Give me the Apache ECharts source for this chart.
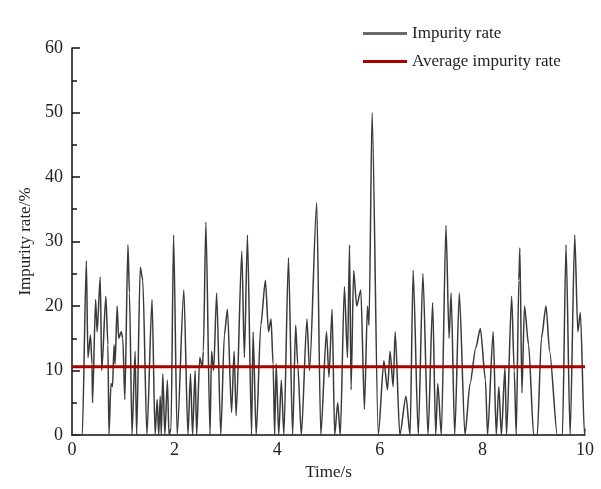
<!DOCTYPE html>
<html><head><meta charset="utf-8">
<script src="https://cdn.jsdelivr.net/npm/echarts@6/dist/echarts.min.js"></script>
<style>html,body{margin:0;padding:0;background:#fff}#c{width:601px;height:489px}</style>
</head><body><div id="c"></div>
<script>
const times = [0,0.20,0.28,0.31,0.36,0.39,0.40,0.46,0.49,0.55,0.58,0.66,0.70,0.72,0.76,0.79,0.82,0.84,0.88,0.91,0.96,0.99,1.03,1.09,1.12,1.17,1.23,1.26,1.33,1.38,1.46,1.56,1.62,1.66,1.69,1.72,1.74,1.77,1.81,1.86,1.89,1.93,1.98,2.05,2.18,2.26,2.31,2.35,2.40,2.43,2.49,2.54,2.56,2.61,2.69,2.72,2.76,2.82,2.90,2.97,3.03,3.11,3.16,3.20,3.31,3.36,3.42,3.50,3.53,3.59,3.68,3.77,3.83,3.88,3.92,3.95,3.98,4.03,4.08,4.13,4.22,4.30,4.36,4.40,4.47,4.58,4.63,4.77,4.85,4.96,5.01,5.07,5.12,5.18,5.23,5.31,5.37,5.41,5.44,5.49,5.55,5.63,5.70,5.76,5.79,5.85,5.97,6.08,6.15,6.20,6.26,6.30,6.39,6.51,6.59,6.65,6.75,6.84,6.94,7.03,7.09,7.13,7.20,7.29,7.35,7.39,7.46,7.55,7.66,7.76,7.87,7.96,8.06,8.10,8.21,8.27,8.32,8.37,8.44,8.47,8.57,8.62,8.66,8.71,8.73,8.77,8.82,8.90,9.00,9.07,9.15,9.24,9.31,9.46,9.56,9.63,9.71,9.80,9.86,9.91,9.99,10.0];
const impurity = [0,0,27,12,15.5,11,5,21,16,24.5,10,21.5,14,0,8,7.5,14,11,20,15,16,15,5.5,29.5,22,0,13,0,26,24,0,21,0,5.5,0,6,0,9.5,0,8.5,0,1,31,0,22.5,0,9.5,0,10,0,12,10.5,13,33,0,13,10,22,0,15.5,19.5,3.5,13,3,28.5,12,31,0,16,0,17,24,16,18,11,0,11,0,8.5,0,27.5,0,17,11,0,18,10,36,0,16,9,19.5,0,5,0,23,12,29.5,7,25.5,20,22.5,4,20,17,50,0,11.5,7,13,7.5,16,0,6,0,25.5,0,25,0,20.5,0,8,0,32.5,15,22,0,22,0,8,13.5,16.5,8.5,0,16,0,7.5,0,10.5,0,21.5,10,0,24,29,6.5,20,14,0,0,15,20,13,0,0,29.5,0,31,16,19,0,1];
const averageRate = 10.6;
const timeRange = [0, 10];
const seriesNames = ['Impurity rate', 'Average impurity rate'];

const font = 'Liberation Serif, Times New Roman, serif';
const chart = echarts.init(document.getElementById('c'));
chart.setOption({
  animation: false,
  backgroundColor: '#fff',
  grid: {left: 72, right: 16, top: 48, bottom: 54},
  legend: {
    orient: 'vertical', left: 358, top: 20, itemWidth: 44, itemHeight: 3, itemGap: 11,
    textStyle: {fontFamily: font, fontSize: 17, color: '#222'},
    data: [
      {name: seriesNames[0], icon: 'rect', itemStyle: {color: '#6a6a6a'}},
      {name: seriesNames[1], icon: 'rect', itemStyle: {color: '#a80000'}}
    ]
  },
  xAxis: {
    type: 'value', min: 0, max: 10, interval: 2,
    name: 'Time/s', nameLocation: 'middle', nameGap: 25,
    nameTextStyle: {fontFamily: font, fontSize: 17, color: '#222'},
    axisLine: {lineStyle: {color: '#111', width: 1.5}},
    axisTick: {show: false},
    axisLabel: {fontFamily: font, fontSize: 18, color: '#222', margin: 6},
    splitLine: {show: false}
  },
  yAxis: {
    type: 'value', min: 0, max: 60, interval: 10,
    name: 'Impurity rate/%', nameLocation: 'middle', nameGap: 32,
    nameTextStyle: {fontFamily: font, fontSize: 17, color: '#222'},
    axisLine: {show: true, lineStyle: {color: '#111', width: 1.5}},
    axisTick: {show: true, inside: true, length: 8, lineStyle: {color: '#111', width: 1.5}},
    minorTick: {show: true, splitNumber: 2, length: 5, lineStyle: {color: '#111', width: 1.5}},
    axisLabel: {fontFamily: font, fontSize: 18, color: '#222', margin: 9},
    splitLine: {show: false}
  },
  series: [
    {
      name: seriesNames[0], type: 'line', symbol: 'none',
      smooth: 0.25, smoothMonotone: 'x',
      lineStyle: {color: '#3a3a3a', width: 1.5}, itemStyle: {color: '#6a6a6a'},
      data: times.map((t, i) => [t, impurity[i]])
    },
    {
      name: seriesNames[1], type: 'line', symbol: 'none',
      lineStyle: {color: '#a80000', width: 3}, itemStyle: {color: '#a80000'},
      data: timeRange.map(t => [t, averageRate])
    }
  ]
});
</script></body></html>
